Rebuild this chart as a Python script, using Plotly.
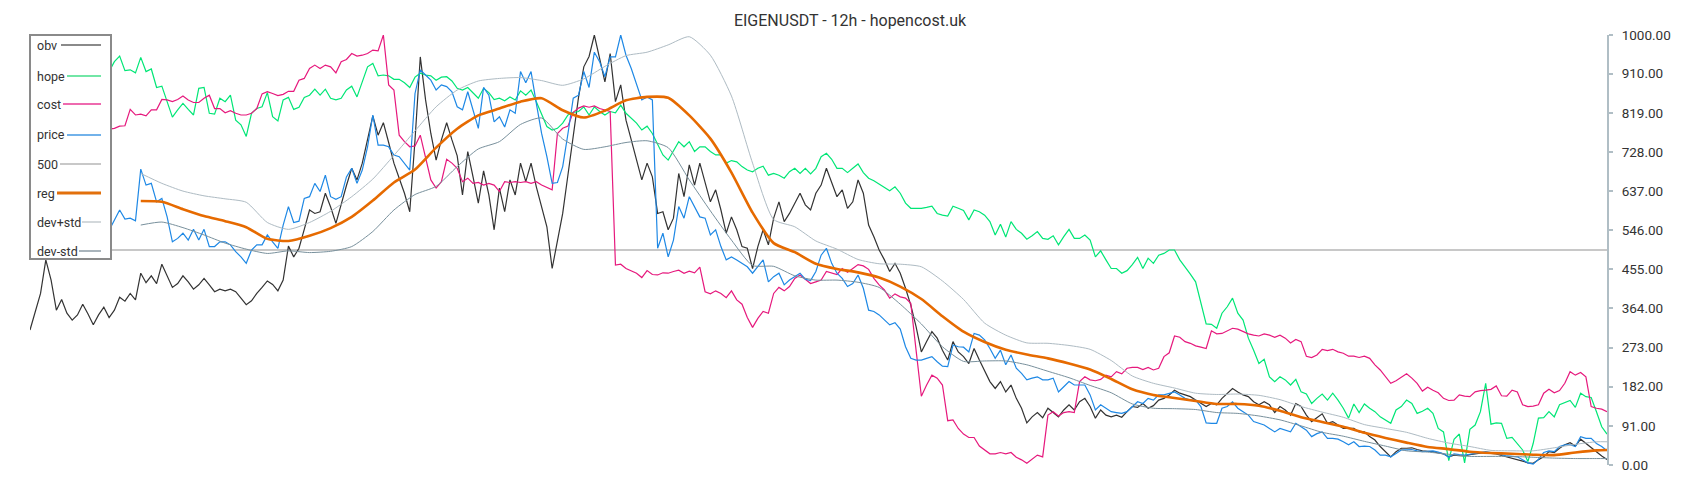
import plotly.graph_objects as go

# ---------------- data (bar index = position in list) ----------------
title_text = "EIGENUSDT - 12h - hopencost.uk"

obv = [
    314, 356, 399, 477, 430, 360, 385, 353, 337, 349,
    374, 351, 326, 349, 367, 343, 360, 390, 381, 399,
    384, 446, 424, 440, 422, 467, 438, 413, 422, 440,
    426, 409, 419, 434, 419, 403, 409, 405, 409, 403,
    388, 373, 382, 399, 413, 428, 420, 405, 430, 509,
    484, 504, 548, 593, 585, 589, 632, 600, 562, 609,
    650, 690, 663, 702, 756, 812, 767, 796, 750, 702,
    667, 632, 589, 756, 949, 849, 771, 709, 756, 796,
    756, 719, 628, 729, 670, 609, 684, 628, 547, 644,
    589, 663, 628, 702, 659, 702, 647, 600, 554, 457,
    520, 585, 675, 764, 855, 926, 950, 1000, 942, 891,
    957, 845, 884, 802, 756, 709, 663, 702, 670, 585,
    589, 547, 574, 678, 624, 698, 651, 702, 659, 612,
    640, 593, 539, 577, 547, 508, 504, 457, 508, 547,
    512, 574, 612, 566, 585, 609, 632, 605, 593, 632,
    651, 690, 659, 624, 640, 597, 612, 663, 632, 558,
    531, 500, 477, 450, 469, 446, 411, 372, 322, 263,
    287, 310, 295, 267, 244, 287, 263, 252, 236, 271,
    244, 217, 194, 178, 194, 170, 186, 155, 132, 98,
    112, 122, 110, 132, 122, 112, 128, 140, 128, 147,
    155, 136, 109, 128, 116, 112, 116, 111, 124, 136,
    134, 143, 132, 138, 151, 155, 163, 174, 167, 163,
    159, 151, 143, 136, 143, 140, 155, 167, 178, 170,
    163, 159, 147, 140, 147, 140, 122, 136, 128, 116,
    143, 136, 116, 101, 109, 119, 97, 101, 93, 85,
    85, 85, 77, 77, 66, 58, 43, 31, 19, 31,
    39, 39, 40, 36, 33, 32, 31, 28, 26, 19,
    23, 22, 21, 24, 26, 28, 29, 27, 26, 22,
    19, 16, 13, 9, 5, 4, 12, 19, 31, 29,
    39, 47, 52, 44, 60, 50, 39, 29, 21, 13,
]

price = [
    560, 565, 572, 578, 570, 562, 558, 565, 572, 578,
    575, 568, 560, 552, 548, 546, 570, 593, 572, 574,
    568, 688, 651, 655, 612, 620, 577, 519, 527, 539,
    523, 548, 523, 548, 508, 508, 519, 519, 512, 496,
    484, 469, 500, 512, 512, 535, 519, 504, 558, 601,
    564, 567, 620, 624, 655, 636, 674, 624, 618, 624,
    670, 690, 655, 686, 740, 814, 744, 744, 740, 721,
    717, 702, 686, 864, 919, 907, 895, 872, 884, 880,
    868, 833, 826, 868, 826, 783, 878, 860, 798, 810,
    786, 826, 818, 915, 889, 915, 841, 771, 717, 655,
    657, 694, 771, 853, 860, 915, 878, 960, 938, 903,
    949, 949, 1000, 953, 922, 887, 849, 856, 849, 504,
    539, 484, 523, 601, 574, 624, 601, 577, 574, 535,
    547, 508, 477, 484, 477, 469, 461, 446, 461, 477,
    426, 438, 446, 419, 430, 438, 446, 432, 429, 450,
    488, 504, 469, 446, 434, 415, 422, 442, 411, 360,
    357, 349, 337, 326, 331, 316, 275, 248, 244, 244,
    248, 252, 240, 230, 229, 279, 275, 274, 263, 306,
    302, 291, 271, 248, 267, 233, 256, 225, 213, 198,
    202, 205, 198, 198, 202, 170, 182, 194, 186, 186,
    186, 163, 128, 140, 132, 124, 122, 120, 124, 135,
    147, 143, 155, 151, 163, 163, 167, 170, 163, 155,
    151, 151, 136, 98, 97, 97, 132, 136, 147, 132,
    124, 116, 101, 97, 93, 85, 77, 85, 81, 77,
    97, 89, 81, 66, 73, 77, 62, 62, 60, 54,
    47, 54, 43, 44, 43, 35, 23, 23, 19, 27,
    35, 35, 36, 33, 31, 32, 33, 30, 26, 18,
    26, 24, 23, 25, 27, 29, 31, 29, 27, 24,
    21, 20, 19, 12, 5, 2, 13, 29, 33, 31,
    43, 47, 47, 43, 66, 62, 62, 50, 43, 33,
]

hope = [
    905, 912, 918, 922, 926, 920, 914, 918, 922, 926,
    930, 926, 920, 916, 912, 915, 938, 951, 917, 919,
    912, 948, 915, 921, 878, 881, 845, 809, 826, 841,
    827, 814, 876, 878, 818, 816, 853, 845, 860, 802,
    791, 764, 818, 829, 833, 866, 810, 800, 849, 855,
    827, 832, 855, 860, 874, 860, 874, 853, 849, 853,
    872, 881, 856, 891, 926, 934, 905, 907, 905, 897,
    897, 889, 878, 902, 911, 907, 905, 895, 902, 903,
    893, 876, 872, 878, 866, 853, 876, 866, 850, 853,
    847, 856, 849, 870, 860, 872, 845, 814, 787, 779,
    783, 795, 814, 820, 822, 833, 814, 833, 822, 814,
    822, 819, 837, 818, 806, 795, 779, 788, 771, 744,
    721, 709, 729, 752, 740, 752, 729, 740, 740, 729,
    721, 721, 702, 708, 705, 694, 686, 682, 690, 695,
    674, 678, 674, 667, 682, 690, 678, 690, 677, 690,
    717, 725, 711, 690, 690, 680, 690, 700, 680, 667,
    661, 653, 646, 638, 647, 632, 609, 597, 597, 597,
    599, 602, 585, 581, 579, 602, 597, 592, 570, 593,
    589, 581, 566, 535, 560, 530, 566, 548, 539, 525,
    533, 543, 527, 525, 533, 512, 531, 548, 527, 527,
    535, 523, 484, 498, 477, 457, 457, 446, 452, 466,
    483, 457, 481, 469, 488, 492, 500, 500, 477, 461,
    444, 426, 380, 328, 327, 318, 353, 368, 388, 353,
    337, 295, 267, 236, 246, 205, 194, 205, 198, 186,
    199, 170, 165, 143, 155, 165, 151, 167, 151, 132,
    109, 142, 122, 142, 132, 124, 112, 105, 97, 128,
    136, 151, 143, 120, 125, 132, 120, 85, 77, 10,
    60, 72, 5, 83, 93, 124, 190, 95, 98, 97,
    62, 64, 50, 35, 8, 50, 109, 110, 124, 112,
    140, 145, 150, 134, 167, 159, 157, 124, 89, 72,
]

cost = [
    760, 763, 766, 768, 771, 770, 773, 775, 774, 777,
    776, 778, 779, 780, 780, 781, 783, 788, 789, 827,
    814, 816, 812, 826, 826, 850, 849, 845, 850, 858,
    849, 843, 843, 853, 860, 829, 829, 819, 824, 818,
    814, 814, 818, 829, 863, 868, 864, 859, 862, 869,
    869, 895, 899, 922, 930, 922, 930, 926, 912, 938,
    943, 957, 951, 953, 957, 965, 963, 1000, 884, 872,
    767, 752, 740, 742, 767, 717, 663, 644, 659, 711,
    702, 690, 659, 667, 655, 657, 651, 655, 651, 636,
    659, 657, 659, 657, 659, 655, 659, 651, 646, 640,
    771, 783, 788, 820, 830, 835, 832, 835, 829, 826,
    822, 465, 467, 457, 452, 446, 436, 452, 443, 442,
    447, 446, 450, 453, 446, 451, 447, 460, 403, 398,
    405, 399, 389, 405, 384, 374, 343, 320, 341, 357,
    353, 399, 413, 405, 415, 434, 442, 432, 422, 426,
    430, 450, 446, 443, 457, 448, 457, 466, 463, 455,
    434, 419, 407, 388, 398, 391, 388, 376, 267, 160,
    186, 209, 202, 186, 103, 105, 85, 72, 64, 64,
    44, 35, 26, 26, 29, 26, 29, 18, 12, 4,
    13, 23, 19, 116, 124, 114, 122, 124, 122, 194,
    205, 198, 196, 199, 209, 205, 217, 212, 225, 227,
    227, 222, 227, 221, 225, 252, 261, 300, 297, 287,
    283, 277, 274, 271, 312, 305, 306, 312, 318, 316,
    310, 305, 302, 300, 305, 302, 297, 302, 295, 284,
    292, 287, 253, 250, 256, 269, 266, 269, 263, 260,
    253, 253, 250, 253, 248, 233, 221, 205, 190, 196,
    205, 212, 202, 190, 172, 181, 174, 168, 155, 150,
    151, 163, 160, 159, 170, 173, 174, 176, 184, 161,
    160, 174, 170, 140, 136, 137, 140, 167, 176, 168,
    173, 190, 217, 209, 215, 205, 136, 132, 130, 124,
]

level_500 = 500

# smooth series, sampled every 4th bar from bar 21, plus the last bar
band_bars = list(range(21, 298, 4)) + [299]
reg = [
    614, 612, 595, 579, 567, 553, 526, 521, 533, 551,
    577, 615, 657, 687, 738, 782, 813, 829, 845, 853,
    825, 808, 824, 848, 856, 854, 813, 759, 680, 587,
    516, 495, 468, 456, 448, 436, 415, 386, 346, 310,
    286, 268, 257, 248, 236, 222, 200, 176, 163, 156,
    149, 142, 142, 138, 126, 111, 100, 89, 75, 63,
    52, 42, 37, 31, 28, 26, 24, 23, 29, 34,
    35,
]
dev_plus = [
    678, 655, 637, 626, 619, 611, 564, 548, 564, 590,
    624, 665, 720, 777, 833, 872, 893, 899, 901, 894,
    883, 898, 927, 952, 960, 977, 996, 953, 858, 702,
    571, 554, 521, 502, 478, 468, 467, 461, 428, 385,
    330, 302, 284, 283, 278, 269, 243, 207, 190, 179,
    167, 164, 165, 162, 152, 136, 123, 111, 94, 85,
    76, 62, 51, 43, 34, 33, 33, 40, 48, 54,
    54,
]
dev_minus = [
    558, 565, 552, 535, 516, 502, 492, 498, 494, 497,
    508, 543, 593, 629, 648, 694, 735, 752, 792, 807,
    758, 734, 740, 750, 754, 738, 663, 591, 523, 464,
    462, 440, 430, 430, 425, 413, 374, 328, 275, 241,
    242, 242, 233, 218, 203, 185, 168, 142, 132, 131,
    129, 122, 120, 114, 105, 91, 76, 67, 55, 44,
    33, 30, 25, 20, 20, 20, 18, 16, 15, 15,
    15,
]

y_ticks = [0, 91, 182, 273, 364, 455, 546, 637, 728, 819, 910, 1000]

# ---------------- styling ----------------
FONT = "Roboto"
C_OBV, C_HOPE, C_COST, C_PRICE = "#333333", "#00e676", "#e6197d", "#1e88e5"
C_500, C_REG, C_DEVP, C_DEVM = "#c8c8c8", "#e66a00", "#aebbc3", "#78909c"

W, H = 1700, 500
OFF = 8  # page margin of the html body
PL, PR, PT, PB = 30 - OFF, 1607 - OFF, 35 - OFF, 465 - OFF   # plot area in figure pixels

def px_x(p):
    """page x pixel -> paper coordinate"""
    return (p - OFF - PL) / (PR - PL)

def px_y(p):
    """page y pixel -> paper coordinate"""
    return (PB - (p - OFF)) / (PB - PT)

fig = go.Figure()
n_bars = len(obv)

fig.add_trace(go.Scatter(x=[0, n_bars - 1], y=[level_500, level_500], mode="lines",
                         line=dict(color=C_500, width=2), name="500", hoverinfo="skip"))
fig.add_trace(go.Scatter(x=list(range(len(obv))), y=obv, mode="lines",
                         line=dict(color=C_OBV, width=1.2), name="obv"))
fig.add_trace(go.Scatter(x=list(range(len(hope))), y=hope, mode="lines",
                         line=dict(color=C_HOPE, width=1.2), name="hope"))
fig.add_trace(go.Scatter(x=list(range(len(cost))), y=cost, mode="lines",
                         line=dict(color=C_COST, width=1.2), name="cost"))
fig.add_trace(go.Scatter(x=list(range(len(price))), y=price, mode="lines",
                         line=dict(color=C_PRICE, width=1.2), name="price"))
fig.add_trace(go.Scatter(x=band_bars, y=reg, mode="lines", line_shape="spline",
                         line=dict(color=C_REG, width=2.6, smoothing=0.6), name="reg"))
fig.add_trace(go.Scatter(x=band_bars, y=dev_plus, mode="lines", line_shape="spline",
                         line=dict(color=C_DEVP, width=1, smoothing=0.6), name="dev+std"))
fig.add_trace(go.Scatter(x=band_bars, y=dev_minus, mode="lines", line_shape="spline",
                         line=dict(color=C_DEVM, width=1, smoothing=0.6), name="dev-std"))

# ---------------- custom legend (text left, sample line right) ----------------
legend_items = [
    ("obv", 45, 61, "#8a8a8a", 2),
    ("hope", 76, 67, "#72e6a6", 2),
    ("cost", 104, 63, "#ee6aaf", 2),
    ("price", 135, 67, "#72b2ea", 2),
    ("500", 164, 60, "#c8c8c8", 2),
    ("reg", 193, 57, "#e2700c", 3),
    ("dev+std", 222, 82, "#d3d8db", 2),
    ("dev-std", 251, 79, "#a9b4bb", 2),
]
shapes = [dict(type="rect", xref="paper", yref="paper",
               x0=px_x(30), x1=px_x(111), y0=px_y(259), y1=px_y(35),
               line=dict(color="#8a8a8a", width=2), fillcolor="white", layer="above")]
annotations = []
for name, yc, lx0, col, lw in legend_items:
    shapes.append(dict(type="line", xref="paper", yref="paper",
                       x0=px_x(lx0), x1=px_x(101), y0=px_y(yc), y1=px_y(yc),
                       line=dict(color=col, width=lw), layer="above"))
    annotations.append(dict(text=name, xref="paper", yref="paper",
                            x=px_x(35), y=px_y(yc), xanchor="left", yanchor="middle",
                            showarrow=False, font=dict(family=FONT, size=12.5, color="#333333")))

fig.update_layout(
    width=W, height=H,
    margin=dict(l=PL, r=W - PR, t=PT, b=H - PB, pad=0),
    paper_bgcolor="white", plot_bgcolor="white",
    showlegend=False,
    title=dict(text=title_text, x=(850 - OFF) / W, xref="container", xanchor="center",
               y=1 - (20.5 - OFF) / H, yref="container", yanchor="middle",
               font=dict(family=FONT, size=16, color="#333333")),
    font=dict(family=FONT, color="#333333"),
    xaxis=dict(range=[0, n_bars - 1], visible=False, showgrid=False, zeroline=False),
    yaxis=dict(range=[0, 1000], side="right", tickvals=y_ticks, tickformat=".2f",
               showline=True, linecolor="#b0bec5", linewidth=2,
               ticks="outside", ticklen=4, tickwidth=1.5, tickcolor="#b0bec5",
               ticklabelstandoff=6,
               showgrid=False, zeroline=False,
               tickfont=dict(family=FONT, size=13.5, color="#333333")),
    shapes=shapes, annotations=annotations,
    hovermode=False,
)

fig.write_html("out.html")
